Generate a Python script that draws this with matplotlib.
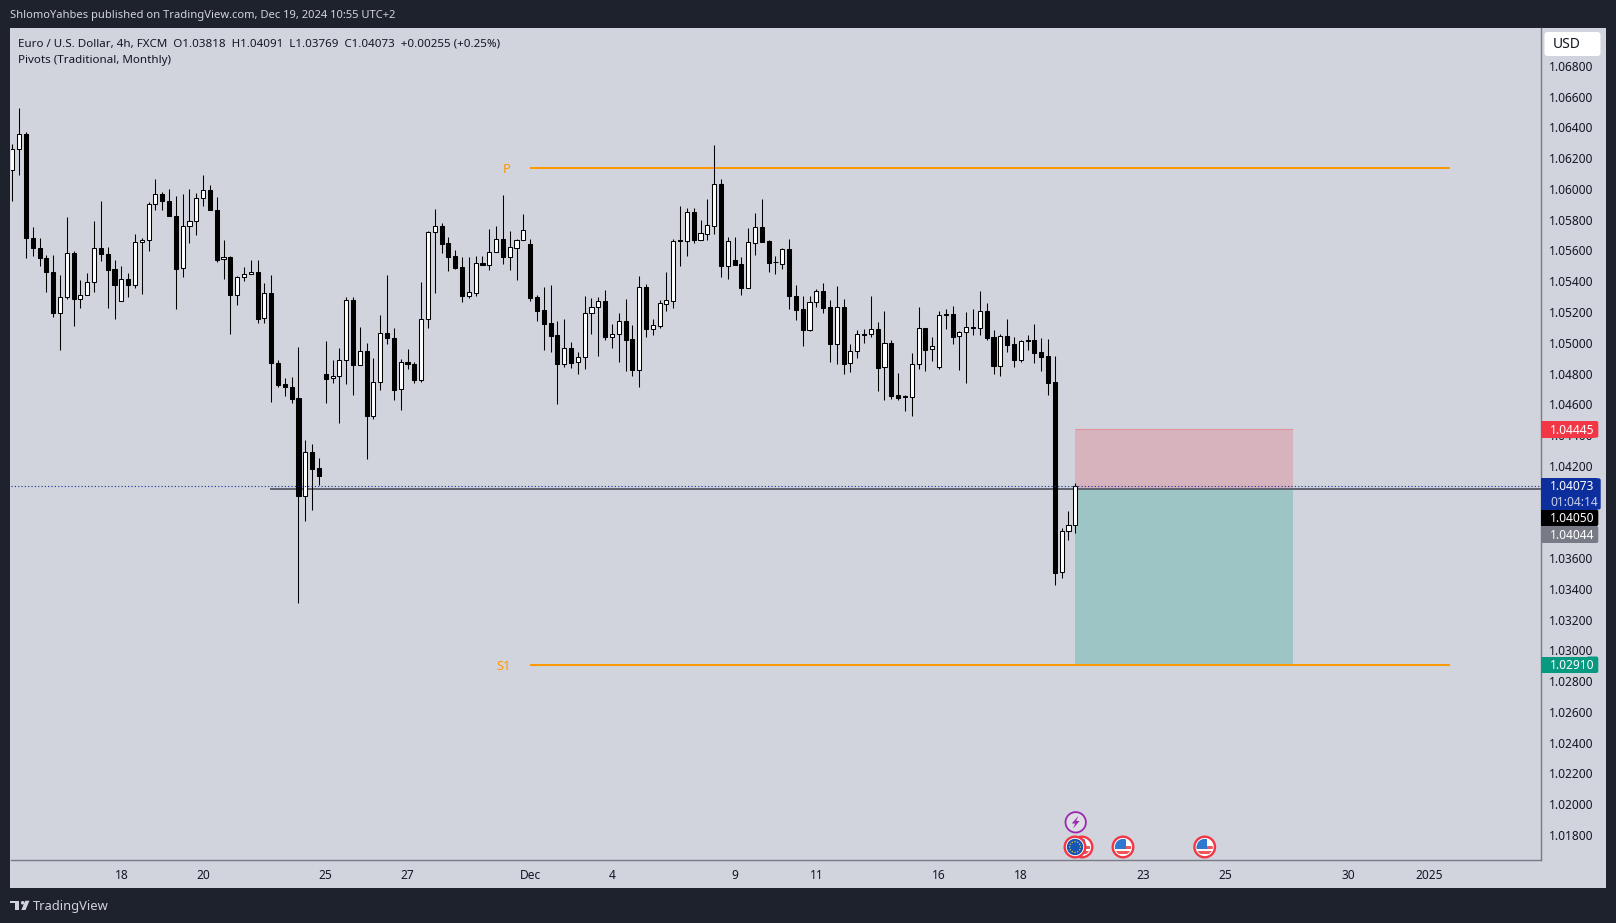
import math
import matplotlib
matplotlib.use("Agg")
import matplotlib.pyplot as plt
from matplotlib.patches import Rectangle, Circle, Polygon, FancyBboxPatch
from matplotlib.transforms import ScaledTranslation

# ---------- data (prices) ----------
opens = [1.06125,1.06261,1.06363,1.05685,1.05620,1.05557,1.05466,1.05195,1.05299,1.05587,
1.05286,1.05312,1.05396,1.05620,1.05581,1.05483,1.05273,1.05418,1.05377,1.05657,
1.05670,1.05904,1.05971,1.05925,1.05828,1.05487,1.05763,1.05793,1.05943,1.05997,
1.05867,1.05546,1.05561,1.05312,1.05429,1.05448,1.05464,1.05162,1.05327,1.04874,
1.04736,1.04716,1.04645,1.04010,1.04294,1.04192,1.04801,1.04772,1.04785,1.04889,
1.05282,1.04857,1.04950,1.04530,1.04746,1.05067,1.05035,1.04701,1.04879,1.04868,
1.04764,1.05158,1.05724,1.05765,1.05654,1.05570,1.05496,1.05310,1.05329,1.05524,
1.05511,1.05592,1.05678,1.05563,1.05622,1.05670,1.05646,1.05303,1.05219,1.05134,
1.05056,1.04868,1.04972,1.04876,1.04909,1.05195,1.05234,1.05277,1.05043,1.05058,
1.05147,1.05030,1.04829,1.05368,1.05095,1.05115,1.05258,1.05277,1.05674,1.05667,
1.05856,1.05674,1.05713,1.05765,1.06036,1.05505,1.05544,1.05518,1.05362,1.05654,
1.05758,1.05668,1.05531,1.05518,1.05615,1.05308,1.05223,1.05089,1.05267,1.05340,
1.05236,1.04998,1.05236,1.04870,1.04948,1.05063,1.05059,1.05093,1.04844,1.05002,
1.04666,1.04656,1.04649,1.04864,1.05100,1.04961,1.04848,1.05193,1.05193,1.05046,
1.05072,1.05108,1.05098,1.05212,1.05041,1.04855,1.05050,1.04998,1.04894,1.05024,
1.05024,1.04946,1.04920,1.04751,1.03511,1.03778,1.03818]
closes = [1.06263,1.06361,1.05683,1.05618,1.05552,1.05461,1.05195,1.05301,1.05587,1.05286,
1.05314,1.05399,1.05620,1.05579,1.05479,1.05377,1.05418,1.05377,1.05659,1.05672,
1.05906,1.05971,1.05923,1.05826,1.05485,1.05763,1.05795,1.05945,1.05997,1.05865,
1.05544,1.05561,1.05312,1.05431,1.05451,1.05464,1.05160,1.05327,1.04870,1.04731,
1.04714,1.04640,1.04010,1.04294,1.04185,1.04140,1.04770,1.04788,1.04892,1.05282,
1.04857,1.04950,1.04530,1.04749,1.05067,1.05033,1.04699,1.04879,1.04863,1.04764,
1.05158,1.05724,1.05763,1.05648,1.05563,1.05492,1.05310,1.05334,1.05522,1.05511,
1.05594,1.05678,1.05563,1.05626,1.05672,1.05737,1.05297,1.05212,1.05128,1.05050,
1.04868,1.04970,1.04874,1.04911,1.05197,1.05236,1.05275,1.05043,1.05061,1.05145,
1.05024,1.04829,1.05366,1.05095,1.05119,1.05262,1.05282,1.05665,1.05667,1.05854,
1.05674,1.05717,1.05769,1.06036,1.05505,1.05665,1.05511,1.05362,1.05659,1.05756,
1.05661,1.05524,1.05527,1.05615,1.05306,1.05219,1.05089,1.05269,1.05340,1.05232,
1.04998,1.05236,1.04868,1.04950,1.05061,1.05056,1.05093,1.04842,1.05002,1.04660,
1.04647,1.04651,1.04866,1.05100,1.04959,1.04983,1.05184,1.05186,1.05043,1.05074,
1.05106,1.05102,1.05210,1.05037,1.04855,1.05048,1.04991,1.04894,1.05017,1.05017,
1.04939,1.04913,1.04744,1.03509,1.03780,1.03819,1.04073]
highs = [1.06296,1.06532,1.06376,1.05758,1.05685,1.05576,1.05576,1.05446,1.05823,1.05600,
1.05414,1.05459,1.05797,1.05927,1.05626,1.05542,1.05505,1.05459,1.05711,1.05685,
1.05919,1.06070,1.05984,1.06005,1.05960,1.05973,1.06005,1.05979,1.06096,1.06031,
1.05951,1.05674,1.05570,1.05440,1.05498,1.05544,1.05544,1.05394,1.05446,1.04894,
1.04777,1.04783,1.04978,1.04374,1.04348,1.04257,1.05017,1.04894,1.04972,1.05303,
1.05303,1.05108,1.05004,1.04907,1.05186,1.05446,1.05102,1.04900,1.04965,1.04881,
1.05401,1.05732,1.05875,1.05784,1.05693,1.05609,1.05563,1.05563,1.05570,1.05570,
1.05743,1.05765,1.05966,1.05732,1.05680,1.05843,1.05680,1.05316,1.05368,1.05381,
1.05147,1.05160,1.05011,1.04946,1.05310,1.05297,1.05303,1.05349,1.05128,1.05199,
1.05290,1.05121,1.05440,1.05388,1.05160,1.05284,1.05466,1.05680,1.05895,1.05882,
1.05882,1.05804,1.05940,1.06291,1.06070,1.05693,1.05693,1.05563,1.05752,1.05849,
1.05940,1.05674,1.05570,1.05622,1.05680,1.05381,1.05308,1.05308,1.05355,1.05394,
1.05284,1.05375,1.05290,1.04998,1.05089,1.05095,1.05310,1.05141,1.05212,1.05024,
1.04809,1.04666,1.04939,1.05238,1.05102,1.05043,1.05212,1.05225,1.05245,1.05082,
1.05206,1.05225,1.05342,1.05264,1.05089,1.05063,1.05160,1.05043,1.05024,1.05056,
1.05128,1.05037,1.05030,1.04920,1.03802,1.03912,1.04091]
lows = [1.05927,1.06096,1.05557,1.05565,1.05505,1.05336,1.05173,1.04959,1.05290,1.05115,
1.05232,1.05312,1.05336,1.05537,1.05232,1.05160,1.05273,1.05303,1.05362,1.05323,
1.05602,1.05869,1.05869,1.05826,1.05225,1.05433,1.05654,1.05706,1.05895,1.05865,
1.05531,1.05420,1.05063,1.05251,1.05407,1.05448,1.05134,1.05134,1.04621,1.04718,
1.04660,1.04614,1.03314,1.03847,1.03919,1.04081,1.04614,1.04744,1.04484,1.04738,
1.04666,1.04857,1.04250,1.04510,1.04699,1.04998,1.04634,1.04569,1.04835,1.04744,
1.04751,1.05102,1.05329,1.05589,1.05472,1.05485,1.05271,1.05297,1.05310,1.05511,
1.05479,1.05592,1.05518,1.05479,1.05414,1.05670,1.05277,1.05147,1.04959,1.04946,
1.04608,1.04848,1.04842,1.04803,1.04835,1.05063,1.04920,1.05024,1.04972,1.04881,
1.04822,1.04790,1.04718,1.05043,1.05056,1.05102,1.05212,1.05232,1.05505,1.05570,
1.05654,1.05674,1.05674,1.05713,1.05433,1.05420,1.05511,1.05316,1.05362,1.05576,
1.05661,1.05466,1.05453,1.05485,1.05225,1.05154,1.04985,1.05082,1.05238,1.05199,
1.04881,1.04868,1.04803,1.04816,1.04907,1.05004,1.05043,1.04692,1.04634,1.04640,
1.04634,1.04562,1.04530,1.04835,1.04822,1.04887,1.04835,1.05095,1.04998,1.04829,
1.04744,1.05056,1.05056,1.05024,1.04803,1.04790,1.04946,1.04848,1.04881,1.04959,
1.04874,1.04822,1.04666,1.03431,1.03477,1.03724,1.03769]

# 1.038 and 1.040 sit fully behind the price tags in the reference, so they carry no label
price_ticks = [1.018,1.020,1.022,1.024,1.026,1.028,1.030,1.032,1.034,1.036,1.042,
               1.044,1.046,1.048,1.050,1.052,1.054,1.056,1.058,1.060,1.062,1.064,1.066,1.068]
date_pos = [16,28,46,58,76,88,106,118,136,148,166,178,196,208]
date_labels = ["18","20","25","27","Dec","4","9","11","16","18","23","25","30","2025"]
pivot_p, pivot_s1 = 1.06142, 1.02910
pivot_start, pivot_end = 76, 211
entry, stop, target = 1.04050, 1.04445, 1.02910
box_start, box_end = 156, 188
last_close = 1.04073
grey_level = 1.04053
grey_start = 37.8

# ---------- style ----------
W, H = 1616, 923
DARK, PANE, INK = "#1e222d", "#d1d4dc", "#131722"
GRID = "#787b86"
FONT = "Noto Sans"
plt.rcParams["font.family"] = [FONT, "DejaVu Sans"]
fig = plt.figure(figsize=(W/100, H/100), dpi=100, facecolor=DARK)

def px_axes(z):
    a = fig.add_axes([0,0,1,1], zorder=z)
    a.set_xlim(0,W); a.set_ylim(H,0); a.axis("off"); a.patch.set_alpha(0)
    return a

bg = px_axes(0)
bg.add_patch(Rectangle((10,27.5),1596,860,fc=PANE,ec="none"))

# main pane
L,R,T,B = 10.5,1540.5,27.5,860
ax = fig.add_axes([L/W,1-B/H,(R-L)/W,(B-T)/H], zorder=1, facecolor=PANE)
X0, DX = 12.3, 6.814
ax.set_xlim((L-X0)/DX,(R-X0)/DX)
Y0, K = 466.4, 15380
ax.set_ylim(1.042+(Y0-B)/K, 1.042+(Y0-T)/K)
for s in ("top","left"): ax.spines[s].set_visible(False)
for s in ("right","bottom"):
    ax.spines[s].set_color(GRID); ax.spines[s].set_linewidth(1.0)

ax.yaxis.tick_right()
ax.set_yticks(price_ticks)
ax.set_yticklabels([f"{p:.5f}" for p in price_ticks], fontsize=8.6, color=INK)
ax.tick_params(axis="y", length=0, pad=6.3)
shift = ScaledTranslation(0, 0.6/100, fig.dpi_scale_trans)
for lbl in ax.get_yticklabels():
    lbl.set_transform(lbl.get_transform()+shift)
ax.set_xticks(date_pos)
ax.set_xticklabels(date_labels, fontsize=8.6, color=INK)
ax.get_xticklabels()[-1].set_fontweight("bold")
ax.tick_params(axis="x", length=0, pad=6.5)

# position box
ax.add_patch(Rectangle((box_start,entry),box_end-box_start,stop-entry,fc="#f23645",alpha=0.2,ec="none",zorder=1))
ax.add_patch(Rectangle((box_start,target),box_end-box_start,entry-target,fc="#089981",alpha=0.25,ec="none",zorder=1))
ax.hlines(stop,box_start,box_end,color="#f23645",alpha=0.25,lw=0.8,zorder=1)

# pivots
label_drop = ScaledTranslation(0, -1.5/100, fig.dpi_scale_trans)
for lvl,lab,fs in ((pivot_p,"P",9.5),(pivot_s1,"S1",9.2)):
    ax.hlines(lvl,pivot_start,pivot_end,color="#ff9800",lw=1.4,zorder=2)
    ax.text(pivot_start-2.9,lvl,lab,color="#ff9800",fontsize=fs,ha="right",va="center",zorder=2,
            transform=ax.transData+label_drop)

# reference lines
ax.hlines(grey_level,grey_start,ax.get_xlim()[1],color="#5f626c",lw=1.4,zorder=2)

# candles
idx = list(range(len(opens)))
ax.vlines(idx,lows,highs,color="black",lw=0.75,zorder=3)
for i,o,c in zip(idx,opens,closes):
    up = c>=o
    ax.add_patch(Rectangle((i-0.3,min(o,c)),0.6,max(abs(c-o),1e-5),
                 fc="white" if up else "black",ec="black",lw=0.75,zorder=3))
ax.axhline(last_close,color="#0d2f9e",lw=0.8,linestyle=(0,(1,2)),zorder=4)

# ---------- overlay chrome ----------
ov = px_axes(5)
def tag(y0,y1,face,lines,x1=1598.3):
    ov.add_patch(Rectangle((1541,y0),x1-1541-4,y1-y0,fc=face,ec="none"))
    ov.add_patch(FancyBboxPatch((x1-10,y0+1.5),8.5,y1-y0-3,boxstyle="round,pad=1.5,rounding_size=2",fc=face,ec="none"))
    n=len(lines)
    for k,(t,col) in enumerate(lines):
        ov.text(1550,y0+(y1-y0)*(k+0.5)/n+0.8,t,color=col,fontsize=8.6,ha="left",va="center")

tag(421,437.7,"#f23645",[(f"{stop:.5f}","white")])
tag(526,543,"#787b86",[("1.04044","white")])
tag(509.5,526,"#000000",[(f"{entry:.5f}","white")])
tag(478.3,509.5,"#0d2f9e",[(f"{last_close:.5f}","white"),("01:04:14","#c8d0ea")],x1=1600.7)
tag(656.5,673,"#089981",[(f"{target:.5f}","white")])

ov.add_patch(FancyBboxPatch((1546,33.5),53,21,boxstyle="round,pad=1.5,rounding_size=3",fc="white",ec="none"))
ov.text(1567,44.5,"USD",color=INK,fontsize=10,ha="center",va="center")

ov.text(10,15.5,"ShlomoYahbes published on TradingView.com, Dec 19, 2024 10:55 UTC+2",color=PANE,fontsize=8.05,va="center")
ov.text(18,43.6,"Euro / U.S. Dollar, 4h, FXCM  O1.03818  H1.04091  L1.03769  C1.04073  +0.00255 (+0.25%)",color=INK,fontsize=8.33,va="center")
ov.text(18,60.7,"Pivots (Traditional, Monthly)",color=INK,fontsize=8.35,va="center")

# logo
ov.add_patch(Polygon([(10,900.7),(19.3,900.7),(19.3,910),(14.7,910),(14.7,903.4),(10,903.4)],fc=PANE,ec="none"))
ov.add_patch(Circle((22.7,902.8),1.8,fc=PANE,ec="none"))
ov.add_patch(Polygon([(25.3,900.7),(29.5,900.7),(25.5,910),(21.3,910)],fc=PANE,ec="none"))
ov.text(33.3,906.5,"TradingView",color=PANE,fontsize=9.3,va="center")

# event icons
def flag(cx,cy=847,r=10.3):
    ov.add_patch(Circle((cx,cy),r,fc="white",ec="#f23645",lw=1.7))
    clip = Circle((cx,cy),r-2.2,transform=ov.transData)
    for yy in (cy-1.5,cy+4):
        p = Rectangle((cx-r,yy),2*r,3,fc="#f0575a",ec="none"); ov.add_patch(p); p.set_clip_path(clip)
    p = Rectangle((cx-r,cy-r),r+2.5,r+1.5,fc="#2f78d0",ec="none"); ov.add_patch(p); p.set_clip_path(clip)

flag(1082)
ov.add_patch(Circle((1075,847),10.3,fc="white",ec="#f23645",lw=1.7))
ov.add_patch(Circle((1075,847),8.2,fc="#1656b5",ec="none"))
for a in range(0,360,30):
    ov.add_patch(Circle((1075+5.4*math.cos(math.radians(a)),847+5.4*math.sin(math.radians(a))),0.7,fc="#e8c22c",ec="none"))
flag(1123); flag(1204.7)

ov.add_patch(Circle((1075.7,822.3),10.2,fc="#dcdee4",ec="#9c27b0",lw=1.3))
ov.add_patch(Polygon([(1078.3,816),(1071.8,823.5),(1075.2,823.5),(1073,828.6),(1079.6,821),(1076.2,821)],fc="#9c27b0",ec="none"))

fig.savefig("out.png",dpi=100,facecolor=DARK)
